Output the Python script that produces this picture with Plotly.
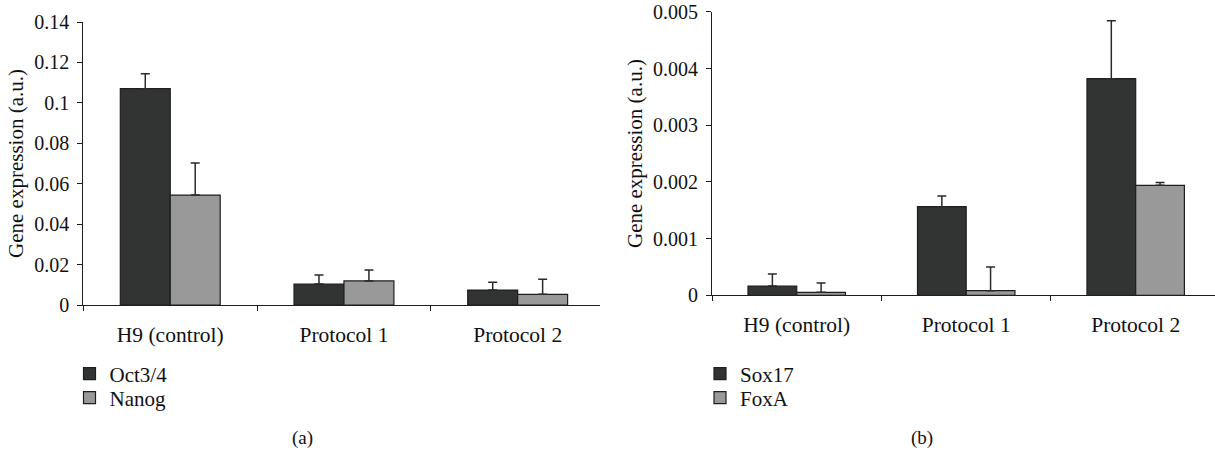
import plotly.graph_objects as go

categories = ["H9 (control)", "Protocol 1", "Protocol 2"]

# Panel (a)
oct34 = [0.107, 0.0104, 0.0074]
oct34_err = [0.0074, 0.0044, 0.0038]
nanog = [0.0544, 0.0119, 0.0053]
nanog_err = [0.0159, 0.0054, 0.0074]
ticks_a = [0, 0.02, 0.04, 0.06, 0.08, 0.1, 0.12, 0.14]
ticklabels_a = ["0", "0.02", "0.04", "0.06", "0.08", "0.1", "0.12", "0.14"]

# Panel (b)
sox17 = [0.000164, 0.001563, 0.00382]
sox17_err = [0.00021, 0.00019, 0.00102]
foxa = [0.000053, 0.000081, 0.00194]
foxa_err = [0.000164, 0.00042, 0.00005]
ticks_b = [0, 0.001, 0.002, 0.003, 0.004, 0.005]
ticklabels_b = ["0", "0.001", "0.002", "0.003", "0.004", "0.005"]

DARK = "#323433"
LIGHT = "#999999"
EDGE = "#1e1e1e"
FONT = "Liberation Serif, Times New Roman, serif"
W, H = 1215, 452

def bar(name, vals, errs, color, xa, ya, legend):
    return go.Bar(
        x=categories, y=vals, name=name, xaxis=xa, yaxis=ya, legend=legend,
        showlegend=True,
        marker=dict(color=color, line=dict(color=EDGE, width=1.2)),
        error_y=dict(type="data", array=errs, arrayminus=[0] * len(errs),
                     symmetric=False, color="#2a2a2a", thickness=1.5, width=4.5),
    )

fig = go.Figure()
fig.add_trace(bar("Oct3/4", oct34, oct34_err, DARK, "x", "y", "legend"))
fig.add_trace(bar("Nanog", nanog, nanog_err, LIGHT, "x", "y", "legend2"))
fig.add_trace(bar("Sox17", sox17, sox17_err, DARK, "x2", "y2", "legend3"))
fig.add_trace(bar("FoxA", foxa, foxa_err, LIGHT, "x2", "y2", "legend4"))

def px_x(p):
    return p / W

def px_y(p):
    return 1 - p / H

axis_common = dict(showline=True, linecolor=EDGE, linewidth=1.2, showgrid=False,
                   zeroline=False, ticks="outside", tickcolor=EDGE, ticklen=5,
                   tickwidth=1.2, automargin=False)

xa_common = dict(type="category", tickson="boundaries", ticklabelstandoff=10,
                 tickfont=dict(family=FONT, size=21.5, color="#111"), **axis_common)
ya_common = dict(ticklabelstandoff=4, tickfont=dict(family=FONT, size=20, color="#111"),
                 **axis_common)
title_font = dict(family=FONT, size=21, color="#111")
legend_font = dict(family=FONT, size=21, color="#111")

def leg(xp, yp):
    return dict(x=px_x(xp), y=px_y(yp), xanchor="left", yanchor="middle",
                font=legend_font, bgcolor="rgba(0,0,0,0)", borderwidth=0,
                itemclick=False, itemdoubleclick=False, tracegroupgap=0,
                visible=True)

fig.update_layout(
    width=W, height=H, margin=dict(l=0, r=0, t=0, b=0, autoexpand=False),
    paper_bgcolor="white", plot_bgcolor="white",
    showlegend=True,
    barmode="group", bargap=0.425, bargroupgap=0,
    font=dict(family=FONT, size=20, color="#111"),
    xaxis=dict(domain=[px_x(83.4), px_x(600)], anchor="y",
               range=[-0.5, 2.474], **xa_common),
    yaxis=dict(domain=[px_y(305), px_y(22)], anchor="x", range=[0, 0.14],
               tickvals=ticks_a, ticktext=ticklabels_a,
               title=dict(text="Gene expression (a.u.)", font=title_font, standoff=4),
               **ya_common),
    xaxis2=dict(domain=[px_x(712), px_x(1215)], anchor="y2",
                range=[-0.5, 2.468], **xa_common),
    yaxis2=dict(domain=[px_y(295.3), px_y(11.8)], anchor="x2", range=[0, 0.005],
                tickvals=ticks_b, ticktext=ticklabels_b,
                title=dict(text="Gene expression (a.u.)", font=title_font, standoff=4),
                **ya_common),
    legend=leg(69.5, 374),
    legend2=leg(69.5, 398),
    legend3=leg(700, 374),
    legend4=leg(700, 398),
    annotations=[
        dict(text="(a)", x=px_x(302), y=px_y(438), xref="paper", yref="paper",
             xanchor="center", yanchor="middle",
             showarrow=False, font=dict(family=FONT, size=19, color="#111")),
        dict(text="(b)", x=px_x(922), y=px_y(438), xref="paper", yref="paper",
             xanchor="center", yanchor="middle",
             showarrow=False, font=dict(family=FONT, size=19, color="#111")),
    ],
)

fig.write_html(
    "out.html",
    config={"displayModeBar": False},
    post_script="document.body.style.margin='0';document.body.style.overflow='hidden';",
)
